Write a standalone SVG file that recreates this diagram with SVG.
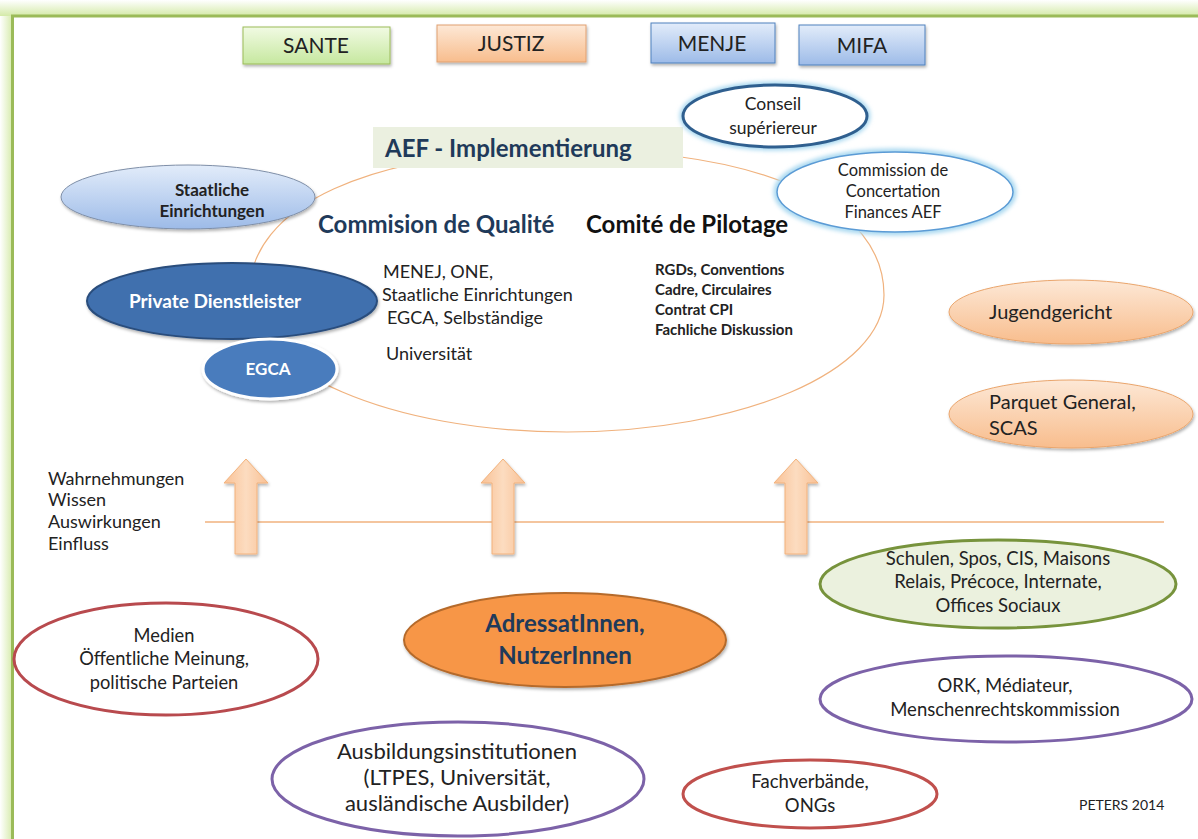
<svg xmlns="http://www.w3.org/2000/svg" width="1198" height="839" viewBox="0 0 1198 839">
<defs>
<linearGradient id="glowL" x1="0" y1="0" x2="1" y2="0"><stop offset="0" stop-color="#ffffff"/><stop offset="1" stop-color="#d4eaa8"/></linearGradient>
<linearGradient id="glowT" x1="0" y1="0" x2="0" y2="1"><stop offset="0" stop-color="#ffffff"/><stop offset="1" stop-color="#d4eaa8"/></linearGradient>
<linearGradient id="gGreen" x1="0" y1="0" x2="0" y2="1"><stop offset="0" stop-color="#f1fae3"/><stop offset="1" stop-color="#c6e89f"/></linearGradient>
<linearGradient id="gOrange" x1="0" y1="0" x2="0" y2="1"><stop offset="0" stop-color="#fde8d6"/><stop offset="1" stop-color="#f8bd8d"/></linearGradient>
<linearGradient id="gBlue" x1="0" y1="0" x2="0" y2="1"><stop offset="0" stop-color="#e2ecfa"/><stop offset="1" stop-color="#9dbbe8"/></linearGradient>
<linearGradient id="gArrow" x1="0" y1="0" x2="1" y2="0"><stop offset="0" stop-color="#f9c195"/><stop offset="0.5" stop-color="#fcdcc0"/><stop offset="1" stop-color="#f9c195"/></linearGradient>
<filter id="sh" x="-20%" y="-20%" width="140%" height="150%"><feDropShadow dx="1" dy="2" stdDeviation="1.5" flood-color="#000" flood-opacity="0.3"/></filter>
<filter id="glowB" x="-20%" y="-20%" width="140%" height="140%"><feGaussianBlur stdDeviation="2"/></filter>
</defs>
<style>
text{font-family:Lato,"Liberation Sans",sans-serif;fill:#222}
.c{text-anchor:middle}
.b{font-weight:bold}
.box{stroke-width:1}
.ov3{fill:#fff;stroke-width:3}
.navy{fill:#1f3a5a}
.w{fill:#fff}
</style>
<rect x="0" y="0" width="1198" height="839" fill="#fff"/>
<rect x="0" y="0" width="13" height="839" fill="url(#glowL)"/>
<rect x="0" y="0" width="1198" height="16" fill="url(#glowT)"/>
<rect x="12.5" y="16" width="1300" height="1000" fill="#fff" stroke="#9bbb59" stroke-width="3"/>

<g id="connectors">
<path d="M249,295 C249,205 370,150 567,150 C764,150 884,205 884,295 C884,371 742,432 567,432 C392,432 249,371 249,295 Z" fill="none" stroke="#f0b27e" stroke-width="1.2"/>
<line x1="205" y1="522" x2="1164" y2="522" stroke="#f0b27e" stroke-width="1.5"/>
<g filter="url(#sh)" fill="url(#gArrow)" stroke="#f2b27c" stroke-width="1">
<path d="M235,554 L235,483 L224,483 L246,459 L268,483 L257,483 L257,554 Z"/>
<path d="M492,554 L492,483 L481,483 L503,459 L525,483 L514,483 L514,554 Z"/>
<path d="M785,554 L785,483 L774,483 L796,459 L818,483 L807,483 L807,554 Z"/>
</g>
</g>

<g id="sante"><rect x="243" y="27" width="147" height="37" fill="url(#gGreen)" stroke="#9bbb59" class="box" filter="url(#sh)"/><text x="316" y="53" class="c" font-size="21">SANTE</text></g>
<g id="justiz"><rect x="437" y="25" width="149" height="37" fill="url(#gOrange)" stroke="#e0a070" class="box" filter="url(#sh)"/><text x="511" y="51" class="c" font-size="21">JUSTIZ</text></g>
<g id="menje"><rect x="651" y="23" width="124" height="40" fill="url(#gBlue)" stroke="#4f81bd" class="box" filter="url(#sh)"/><text x="712" y="51" class="c" font-size="21">MENJE</text></g>
<g id="mifa"><rect x="799" y="25" width="126" height="40" fill="url(#gBlue)" stroke="#4f81bd" class="box" filter="url(#sh)"/><text x="862" y="53" class="c" font-size="21">MIFA</text></g>

<g id="aef"><rect x="373" y="127" width="310" height="41" fill="#ebf0e0"/><text x="385" y="157" class="b navy" font-size="24">AEF - Implementierung</text></g>

<g id="conseil">
<ellipse cx="775" cy="116" rx="92" ry="31" fill="none" stroke="#a8d8f0" stroke-width="7" filter="url(#glowB)"/>
<ellipse cx="775" cy="116" rx="92" ry="31" fill="#fff" stroke="#2f5f8f" stroke-width="3"/>
<text x="773" y="110" class="c" font-size="17.5">Conseil</text><text x="773" y="134" class="c" font-size="17.5">supériereur</text></g>

<g id="commission">
<ellipse cx="895" cy="192" rx="118" ry="40" fill="none" stroke="#a8d8f0" stroke-width="7" filter="url(#glowB)"/>
<ellipse cx="895" cy="192" rx="118" ry="40" fill="#fff" stroke="#5b9bd5" stroke-width="1.5"/>
<text x="893" y="176" class="c" font-size="16.5">Commission de</text><text x="893" y="197" class="c" font-size="16.5">Concertation</text><text x="893" y="218" class="c" font-size="16.5">Finances AEF</text></g>

<g id="staatliche"><ellipse cx="188" cy="197" rx="127" ry="32" fill="url(#gBlue)" stroke="#7f8fa8" stroke-width="1" filter="url(#sh)"/>
<text x="212" y="196" class="c b" font-size="17">Staatliche</text><text x="212" y="217" class="c b" font-size="17">Einrichtungen</text></g>

<g id="private"><ellipse cx="232" cy="301" rx="145" ry="38" fill="#3f6fae" stroke="#2a4d7c" stroke-width="2" filter="url(#sh)"/>
<text x="215" y="308" class="c b w" font-size="19">Private Dienstleister</text></g>

<g id="egca"><ellipse cx="270" cy="369" rx="67" ry="30" fill="#4a7cbd" stroke="#fff" stroke-width="3" filter="url(#sh)"/>
<text x="268" y="375" class="c b w" font-size="17">EGCA</text></g>

<g id="qualite"><text x="318" y="233" class="b navy" font-size="24">Commision  de Qualité</text>
<text x="383" y="278" font-size="18">MENEJ, ONE,</text>
<text x="382" y="301" font-size="18">Staatliche Einrichtungen</text>
<text x="387" y="324" font-size="18">EGCA, Selbständige</text>
<text x="386" y="360" font-size="18">Universität</text></g>

<g id="pilotage"><text x="586" y="233" class="b" font-size="24" style="fill:#111">Comité de Pilotage</text>
<text x="655" y="275" class="b" font-size="15">RGDs, Conventions</text>
<text x="655" y="295" class="b" font-size="15">Cadre, Circulaires</text>
<text x="655" y="315" class="b" font-size="15">Contrat CPI</text>
<text x="655" y="335" class="b" font-size="15">Fachliche  Diskussion</text></g>

<g id="jugendgericht"><ellipse cx="1071" cy="312" rx="122" ry="32" fill="url(#gOrange)" stroke="#eaa56c" stroke-width="1" filter="url(#sh)"/>
<text x="989" y="319" font-size="20">Jugendgericht</text></g>

<g id="parquet"><ellipse cx="1071" cy="414" rx="122" ry="34" fill="url(#gOrange)" stroke="#eaa56c" stroke-width="1" filter="url(#sh)"/>
<text x="989" y="409" font-size="20">Parquet General,</text><text x="989" y="435" font-size="20">SCAS</text></g>

<g id="wahrnehmungen">
<text x="48" y="485" font-size="18">Wahrnehmungen</text>
<text x="48" y="506" font-size="18">Wissen</text>
<text x="48" y="528" font-size="18">Auswirkungen</text>
<text x="48" y="550" font-size="18">Einfluss</text></g>

<g id="schulen"><ellipse cx="998" cy="584" rx="178" ry="44" fill="#ebf1de" stroke="#77933c" stroke-width="3"/>
<text x="998" y="565" class="c" font-size="18.5">Schulen, Spos,  CIS, Maisons</text>
<text x="998" y="588" class="c" font-size="18.5">Relais, Précoce, Internate,</text>
<text x="998" y="612" class="c" font-size="18.5">Offices Sociaux</text></g>

<g id="ork"><ellipse cx="1006" cy="699" rx="186" ry="43" class="ov3" stroke="#7c62a8"/>
<text x="1005" y="692" class="c" font-size="18.5">ORK, Médiateur,</text>
<text x="1005" y="716" class="c" font-size="18.5">Menschenrechtskommission</text></g>

<g id="fachverbaende"><ellipse cx="810" cy="794" rx="127" ry="34" class="ov3" stroke="#c0504d"/>
<text x="810" y="788" class="c" font-size="18.5">Fachverbände,</text>
<text x="810" y="812" class="c" font-size="18.5">ONGs</text></g>

<g id="peters"><text x="1079" y="810" font-size="14">PETERS  2014</text></g>

<g id="medien"><ellipse cx="166" cy="659" rx="152" ry="56" class="ov3" stroke="#b84a4e"/>
<text x="164" y="642" class="c" font-size="18.3">Medien</text>
<text x="164" y="665" class="c" font-size="18.3">Öffentliche Meinung,</text>
<text x="164" y="689" class="c" font-size="18.3">politische Parteien</text></g>

<g id="adressat"><ellipse cx="565" cy="640" rx="161" ry="47" fill="#f79646" stroke="#b56a2c" stroke-width="2" filter="url(#sh)"/>
<text x="565" y="632" class="c b navy" font-size="24">AdressatInnen,</text>
<text x="565" y="664" class="c b navy" font-size="24">NutzerInnen</text></g>

<g id="ausbildung"><ellipse cx="458" cy="779" rx="186" ry="57" class="ov3" stroke="#7c62a8"/>
<text x="457" y="759" class="c" font-size="22">Ausbildungsinstitutionen</text>
<text x="457" y="785" class="c" font-size="22">(LTPES, Universität,</text>
<text x="457" y="811" class="c" font-size="22">ausländische Ausbilder)</text></g>
</svg>
